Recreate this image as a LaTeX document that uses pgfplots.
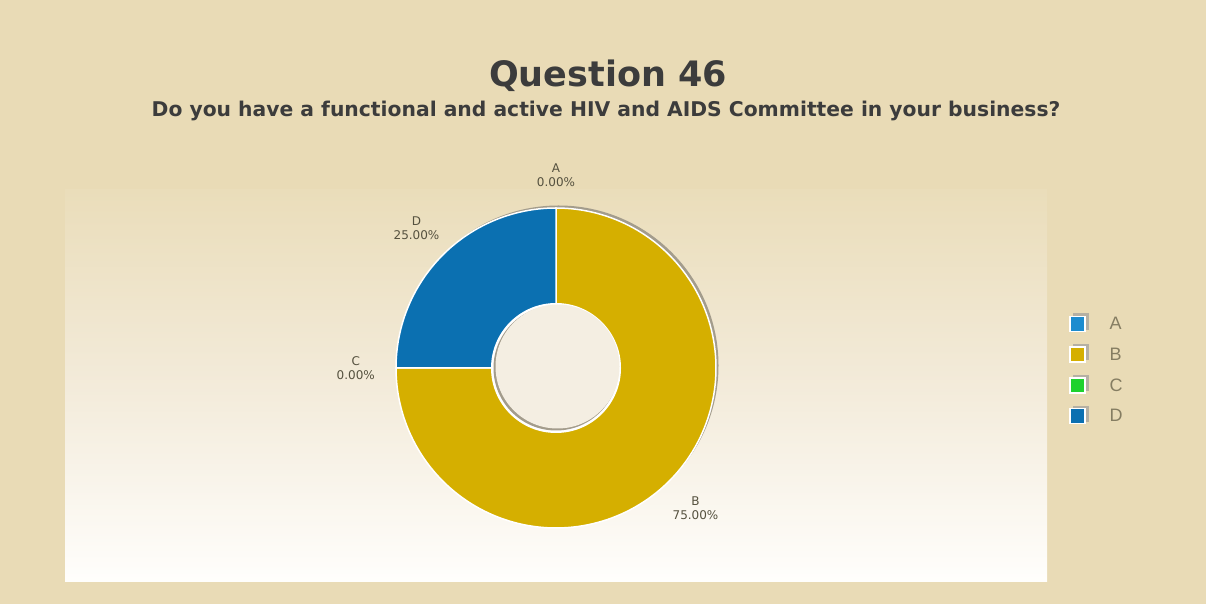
\documentclass[border=0pt]{standalone}
\usepackage{pgfplots}
\usepackage{pgfplotstable}
\usepackage{fontspec}
\setmainfont{DejaVu Sans}
\newfontfamily\libsans{Liberation Sans}
\pgfplotsset{compat=1.18}

\definecolor{bg}{HTML}{E9DBB6}
\definecolor{paneltop}{HTML}{EADDBA}
\definecolor{panelmid}{HTML}{F3EBDA}
\definecolor{panelbot}{HTML}{FFFEFC}
\definecolor{colA}{HTML}{1C8CCF}
\definecolor{colB}{HTML}{D5AF00}
\definecolor{colC}{HTML}{1ED22E}
\definecolor{colD}{HTML}{0B70B1}
\definecolor{txt}{HTML}{3C3C3C}
\definecolor{lbl}{HTML}{55513F}
\definecolor{lgd}{HTML}{857D62}
\definecolor{hole}{HTML}{F4EEE2}
\definecolor{shadow}{HTML}{A39C8C}

\pgfplotstableread{
label value
A 0
B 75
C 0
D 25
}\datatable

\pgfplotstablegetelem{0}{value}\of\datatable \edef\vA{\pgfplotsretval}
\pgfplotstablegetelem{1}{value}\of\datatable \edef\vB{\pgfplotsretval}
\pgfplotstablegetelem{2}{value}\of\datatable \edef\vC{\pgfplotsretval}
\pgfplotstablegetelem{3}{value}\of\datatable \edef\vD{\pgfplotsretval}

\def\cx{556}
\def\cy{236}
\def\R{160}

% one donut slice from percent #1 to percent #2
\newcommand\slice[3]{%
  \ifdim\dimexpr#2pt-#1pt\relax>0pt
    \addplot[forget plot, fill=#3, draw=white, line width=1.5pt, line join=round,
      domain=#1:#2, samples=150, variable=\t]
      ({\cx+\R*cos(90-3.6*\t)}, {\cy+\R*sin(90-3.6*\t)}) -- (axis cs:\cx,\cy) -- cycle;
  \fi
}
% label of a slice
\newcommand\lab[4]{%
  \pgfmathsetmacro\ang{90-1.8*(#1+#2)}%
  \pgfmathsetmacro\lx{\cx+180*cos(\ang)}%
  \pgfmathsetmacro\ly{\cy+180*sin(\ang)}%
  \pgfmathtruncatemacro\anc{mod(\ang+540,360)}%
  \edef\tmp{\noexpand\node[anchor=\anc, align=center, text=lbl, inner sep=1pt,
    font=\noexpand\fontsize{12}{14}\noexpand\selectfont]
    at (axis cs:\lx,\ly) {#3\noexpand\\\noexpand\pgfmathprintnumber[fixed,fixed zerofill,precision=2,assume math mode=true]{#4}\noexpand\%};}%
  \tmp
}

\begin{document}
\begin{tikzpicture}
\pgfmathsetmacro\sA{0}
\pgfmathsetmacro\sB{\sA+\vA}
\pgfmathsetmacro\sC{\sB+\vB}
\pgfmathsetmacro\sD{\sC+\vC}
\pgfmathsetmacro\sE{\sD+\vD}
\begin{axis}[
  width=1206pt, height=604pt, scale only axis,
  xmin=0, xmax=1206, ymin=0, ymax=604,
  hide axis, clip=false,
  /pgf/number format/assume math mode=true,
  legend style={at={(axis cs:1069,291)}, anchor=north west, draw=none, fill=none,
    font=\libsans\fontsize{18}{20}\selectfont, text=lgd, row sep=11.9pt,
    inner sep=0pt, nodes={inner sep=1pt},
    /tikz/every odd column/.append style={column sep=20pt}},
  legend cell align=left,
  legend image code/.code={
    \fill[shadow!80] (3pt,-5pt) rectangle (18.5pt,10.5pt);
    \filldraw[#1, draw=white, line width=1.4pt] (0pt,-7.5pt) rectangle (15pt,7.5pt);
  },
]
% backgrounds
\fill[bg] (axis cs:0,0) rectangle (axis cs:1206,604);
\shade[top color=paneltop, bottom color=panelbot, middle color=panelmid]
  (axis cs:65,22) rectangle (axis cs:1047,414);

% titles
\node[anchor=base, text=txt, font=\bfseries\fontsize{35}{40}\selectfont]
  at (axis cs:608,517) {Question 46};
\node[anchor=base, text=txt, font=\bfseries\fontsize{20.3}{23}\selectfont]
  at (axis cs:606,487) {Do you have a functional and active HIV and AIDS Committee in your business?};

% outer shadow
\fill[shadow] (axis cs:558.5,238.5) circle[radius=160pt];

% slices
\slice{\sA}{\sB}{colA}
\slice{\sB}{\sC}{colB}
\slice{\sC}{\sD}{colC}
\slice{\sD}{\sE}{colD}

% hole
\fill[white] (axis cs:\cx,\cy) circle[radius=65pt];
\fill[shadow] (axis cs:\cx,\cy) circle[radius=62.5pt];
\fill[hole] (axis cs:557.5,237.5) circle[radius=62pt];

% labels
\lab{\sA}{\sB}{A}{\vA}
\lab{\sB}{\sC}{B}{\vB}
\lab{\sC}{\sD}{C}{\vC}
\lab{\sD}{\sE}{D}{\vD}

% legend
\addlegendimage{fill=colA}\addlegendentry{A}
\addlegendimage{fill=colB}\addlegendentry{B}
\addlegendimage{fill=colC}\addlegendentry{C}
\addlegendimage{fill=colD}\addlegendentry{D}
\end{axis}
\end{tikzpicture}
\end{document}
